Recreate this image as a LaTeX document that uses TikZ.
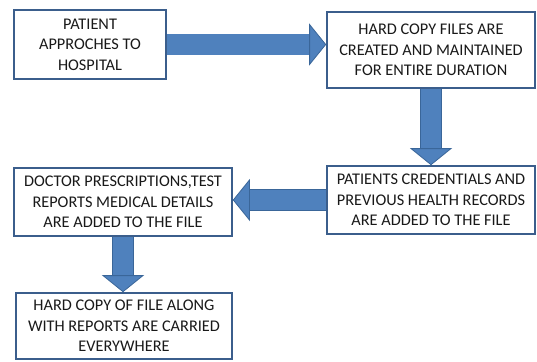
\documentclass[tikz,border=0pt]{standalone}
\usepackage{fontspec}
\setmainfont{Carlito}
\usetikzlibrary{arrows.meta,calc}
\definecolor{boxline}{HTML}{3B5E8C}
\definecolor{arrowfill}{HTML}{4F81BD}
\definecolor{arrowline}{HTML}{3A6699}

\begin{document}
\begin{tikzpicture}[
	x=1pt, y=-1pt,
	stepbox/.style={
		draw=boxline, line width=1.6pt, fill=white,
		align=center, inner sep=0pt, text=black!90,
		font=\fontsize{16.3}{20.5}\selectfont
	},
	flow/.style={
		draw=arrowfill, line width=20pt,
		-{Triangle[length=17pt,width=42pt,line width=0.8pt,fill=arrowfill,color=arrowline]},
		preaction={arrows=-, draw=arrowline, line width=21.6pt, shorten >=16pt}
	}
	]
	\useasboundingbox (0,0) rectangle (537,361);
	\node[stepbox, minimum width=152pt, minimum height=69pt] (visit) at (90,44.5) {PATIENT\\APPROCHES TO\\HOSPITAL};
	\node[stepbox, minimum width=208pt, minimum height=76pt] (files) at (431,50) {HARD COPY FILES ARE\\CREATED AND MAINTAINED\\FOR ENTIRE DURATION};
	\node[stepbox, minimum width=208pt, minimum height=68pt] (records) at (431,200) {PATIENTS CREDENTIALS AND\\PREVIOUS HEALTH RECORDS\\ARE ADDED TO THE FILE};
	\node[stepbox, minimum width=218pt, minimum height=68pt] (doctor) at (123,202) {DOCTOR PRESCRIPTIONS,TEST\\REPORTS MEDICAL DETAILS\\ARE ADDED TO THE FILE};
	\node[stepbox, minimum width=216pt, minimum height=66pt] (carry) at (124,326) {HARD COPY OF FILE ALONG\\WITH REPORTS ARE CARRIED\\EVERYWHERE};
	\draw[flow] (visit.east) -- (visit.east -| files.west);
	\draw[flow] (files.south) -- (records.north);
	\draw[flow] (records.west) -- (records.west -| doctor.east);
	\draw[flow] (doctor.south) -- (doctor.south |- carry.north);
\end{tikzpicture}
\end{document}
